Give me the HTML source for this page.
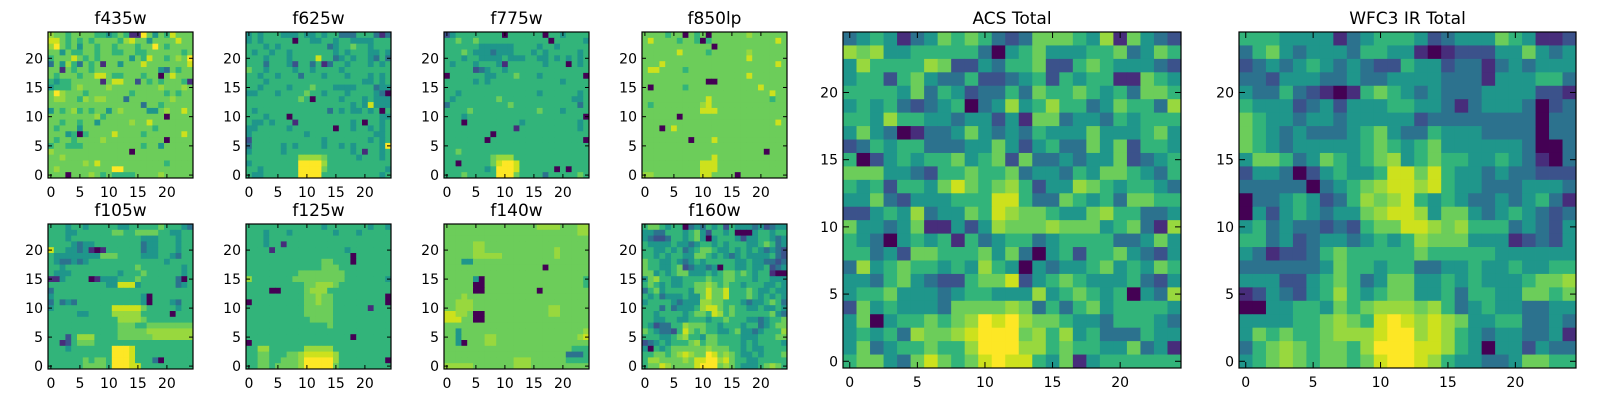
<!DOCTYPE html>
<html><head><meta charset="utf-8"><style>
html,body{margin:0;padding:0;background:#fff;width:1600px;height:400px;overflow:hidden}
svg text{font-family:"DejaVu Sans","Liberation Sans",sans-serif;fill:#000}
</style></head><body>
<svg id="fig" width="1600" height="400" viewBox="0 0 1600 400" xmlns="http://www.w3.org/2000/svg"></svg>
<script>
// Each panel: 25 rows (row 24 first, row 0 last), 25 digit levels 0-9 (viridis scale)
const f435w=["7665666655456511964658666","8865656566665786646666866","7965646656656665669656666","6646556656655665566666656","5666865656666646586656769","3647536561664666866666668","6616566566666666666436566","6566656688655666566068666","5455666661688662656566651","4555676666766666666766676","6976665666666656666656566","6776657677666366666667666","6666666666666666366566666","4656756566467666644676686","6666666675666666666606666","6656656646666676686666666","6566646666666666665666666","6664505666686666566666686","6566566667666666666606666","5665556666666666566466666","7666666666666606666666666","6676666666666666666666666","6666667686666666666656666","6766666666699666666666666","6660666765655556666766666"];
const f625w=["4545554445445455333555313","4545555505544554554444555","5554545555555534556554555","5455455455555554545554454","5554555455558553454554353","5553555425535135545554545","6554555545545555455555555","5545545553555455545554545","5554555555555555555544545","5545555455565554444555344","4455545555655455545555430","5555555556505555455545444","5555555555555555554548444","5455555555555535454454505","5554555055555555555555544","5445455515555555554505545","4455555455555550554554545","4555555555455555555555445","2555555555555455555554545","3555554545555455454555549","4555554555555555554515545","5555555557777655555455545","4555555559999755555555555","5545555559999655555555554","5445555559999555555555545"];
const f775w=["2455555555055555505545555","5565565555555555550555554","5555554444445555455455555","5556544434445554545555545","5554554444544455445454545","5455545554155555545550545","5555523455455555555555555","0555555445556555455555550","5555545455555555555545555","5555555555555555555555555","5545555555555555455555545","5455555556555555555555445","3555555555565555555555535","5555655555555555655545555","5554555555555555555555550","5550555555555455555555545","5555555555551555555555545","5555555505555555555555555","5555555055555555555555550","5555555555555555555555555","5565555555555555555555555","5555555567775555555555555","5505555568998555555555555","5555555459998555555050555","5556555559996555535555565"];
const f850lp=["6666566065606666667666666","6866665665056666666666686","6666666666660666666666666","6666668666656666667666666","6666666666666666668666666","6668666666666666666666686","6886666566666666666666666","6666666666666666668666666","6666666666600666666666666","6066666566666666666686666","6666666666666666666666866","6666666666686666666666566","6566666666786666666666666","6666666666888666666666666","6666660666666666666666666","6666666666666666666666686","6660686666666666666666666","6666666666666666666666666","6666666606668666666666666","6666666666666666666666666","6666666666666666666660666","6666666666668666666666666","6666666666888666666666666","6666666666888666666666666","7766666666886666066666666"];
const f105w=["5554554555554455555655543","5554455555566556666554455","5554555555555555444555455","5555434455555555344555455","8554434101555555344555455","5444444446665555444554355","5433434555555555555545555","5545555555555556555555545","5444555555554555655555545","1145555014445556555555305","5555555555448884555555345","3555555555555555555555555","4555555555555555405555555","3534355555555555405554355","4555555555588888655555455","5555544555577777555550555","5555555555557777655555555","5555555555556665566666666","5555555555556666677777777","5552577755556666667777777","5512566655555555555555555","5554555555599985555555555","5555555555599985555555555","5555556566599985553055555","5555556666599988555555555"];
const f125w=["5555555555555455555554554","5554555455555554555455555","5554555555555555555555555","5554551555555555555555555","5555155555555555545555555","5555555555555555550555555","5555555555555665550555555","5555555555555666555555555","5555555556666666655555555","7555555566666666655555554","5555555555667776555555555","5555005555677755555555555","5555555555667665555555550","0555555555667665555555550","5555555555666665555551555","5555555555666665555555555","5555555555566665555555555","5555555555555565555555555","5555555555555555555555555","5555555555555555550555555","0555555555555555555555555","5577555555777775555555555","5566555667888887555555555","5566556667999997555555550","5566566667999996555555555"];
const f140w=["6666666666666666777766677","6666666666666666666666677","6666666666666666666666666","6666677666666666666666666","6666677666666666666766666","6666677777666666666766666","6664466666666666666666666","6666666666666666606666666","6666666666666666666666666","6666640666666666666666665","6666600666666666666666665","6666600666666666066666666","6667666666666666666666666","6677766666666666666666666","6677766666666666667766666","8877600666666666667766666","8886600666666666666666666","6666666666666666666666666","6646666666666666666666667","6646666776666666666666678","6640666776666666666666666","6666666666666666666666555","6666666666666666666663335","6666666666667776666665555","7777766666667776666666666"];
const f160w=["5665455034354525444342344","4433555456425545000455455","4322355456404555424455434","5444454434554545554456534","5544545345665445454543432","5545455446654543454444532","6554454345455555445443323","6554456234434055445445234","6645456644454566565455100","4675544555565566555455444","5654544556676565545554454","3564555546686685556544544","5453444544686685556545454","4555543444776655543445653","5553534445788656554454454","5545555456658756555555643","5544554455545565554434556","5423355766655455545534566","6543325865655445644345557","5554456755466555544455566","2345455567566555545455554","4054566666676665545445555","5566567876698676544545556","5776666768899786554455555","5668766668999676544456765"];
const acsTotal=["3454134656532366654716432","7674455555304564445563465","4755557622435562256544432","4552564335223452545511654","5555463542335365565453665","4545323450347457553465537","5547554434424166344354555","4643013346434354446444564","2354553334464245336462554","5024545564562633434462345","6664432556556344354665435","5452554686567524476545543","4463244455588533654536655","2245473446587665446755334","6443461142476667666456317","5430454515345534555533464","5534266555646304525564324","3745655454754043445645465","4435643225668245654445324","4556444345544474565450437","2645444366667635356455554","4604556567989766544355543","4545376678999675745333544","4634556557999775655446341","5664368656898854614555555"];
const wfcTotal=["5554444134555423444654112","3564344435544101222446434","2343454343225442331343444","3324443343344443331444553","4335321015654343334444221","5444234244455443134443023","6544344344444233333333033","6543433345643354443333033","6543444445654564444443003","4665346545674565544543103","2443024544588685443433222","3333303456788785443334443","0334542357678545433434531","0424543446788746643454323","4534332325668876755534324","5534234434545766644412324","4312235655555655555444444","3333334655455334454454455","4442245653466445454445667","1243245754566445355446656","0044554656777675345443344","4444556765898787644553343","4656556777899787543443341","3567656657999887540442433","4567656656899875443346655"];

const COLORS=["#440154","#472d7b","#3b528b","#2c728e","#1f968b","#32b47a","#6ccd5a","#98d83e","#cde11d","#fde725"];
const tickVals=[0,5,10,15,20];
const panelTitles=["f435w","f625w","f775w","f850lp","f105w","f125w","f140w","f160w","ACS Total","WFC3 IR Total"];
const panelData=[f435w,f625w,f775w,f850lp,f105w,f125w,f140w,f160w,acsTotal,wfcTotal];

const NS="http://www.w3.org/2000/svg";
const svg=document.getElementById('fig');
function mk(tag,attrs,parent){const e=document.createElementNS(NS,tag);for(const k in attrs)e.setAttribute(k,attrs[k]);(parent||svg).appendChild(e);return e;}

const layout=[];
for(let k=0;k<4;k++){layout.push({x:48+198*k,y:32,w:145,h:146});}
for(let k=0;k<4;k++){layout.push({x:48+198*k,y:224,w:145,h:145});}
layout.push({x:843,y:32,w:338,h:336});
layout.push({x:1239,y:32,w:337,h:336});

panelData.forEach((rows,p)=>{
  const L=layout[p];
  const n=25;
  const sx=v=>L.x+(v+0.5)/n*L.w;
  const sy=v=>L.y+L.h-(v+0.5)/n*L.h;
  const g=mk('g',{});
  
  
  const cw=L.w/n,ch=L.h/n;
  rows.forEach((row,ri)=>{
    const yv=n-1-ri;
    for(let c=0;c<n;c++){
      const d=parseInt(row[c]||'5',10);
      const r=mk('rect',{x:(sx(c)-cw/2).toFixed(2),y:(sy(yv)-ch/2).toFixed(2),width:(cw+0.4).toFixed(2),height:(ch+0.4).toFixed(2),fill:COLORS[d]},g);
      
      
    }
  });
  const fr=mk('rect',{x:L.x,y:L.y,width:L.w,height:L.h,fill:'none',stroke:'#000','stroke-width':1.2},g);
  
  
  const big=p>=8;
  const tl=big?6:4;
  tickVals.forEach(v=>{
    const x=sx(v),y=sy(v);
    mk('line',{x1:x,y1:L.y+L.h,x2:x,y2:L.y+L.h-tl,stroke:'#000','stroke-width':1},g);
    mk('line',{x1:x,y1:L.y,x2:x,y2:L.y+tl,stroke:'#000','stroke-width':1},g);
    mk('line',{x1:L.x,y1:y,x2:L.x+tl,y2:y,stroke:'#000','stroke-width':1},g);
    mk('line',{x1:L.x+L.w,y1:y,x2:L.x+L.w-tl,y2:y,stroke:'#000','stroke-width':1},g);
    const xt=mk('text',{x:x,y:L.y+L.h+19,'text-anchor':'middle','font-size':14},g);
    xt.textContent=v;
    
    
    const yt=mk('text',{x:L.x-5,y:y+5,'text-anchor':'end','font-size':14},g);
    yt.textContent=v;
    
    
  });
  const t=mk('text',{x:L.x+L.w/2,y:L.y-8,'text-anchor':'middle','font-size':17},g);
  t.textContent=panelTitles[p];
  
  
});
</script>
</body></html>
